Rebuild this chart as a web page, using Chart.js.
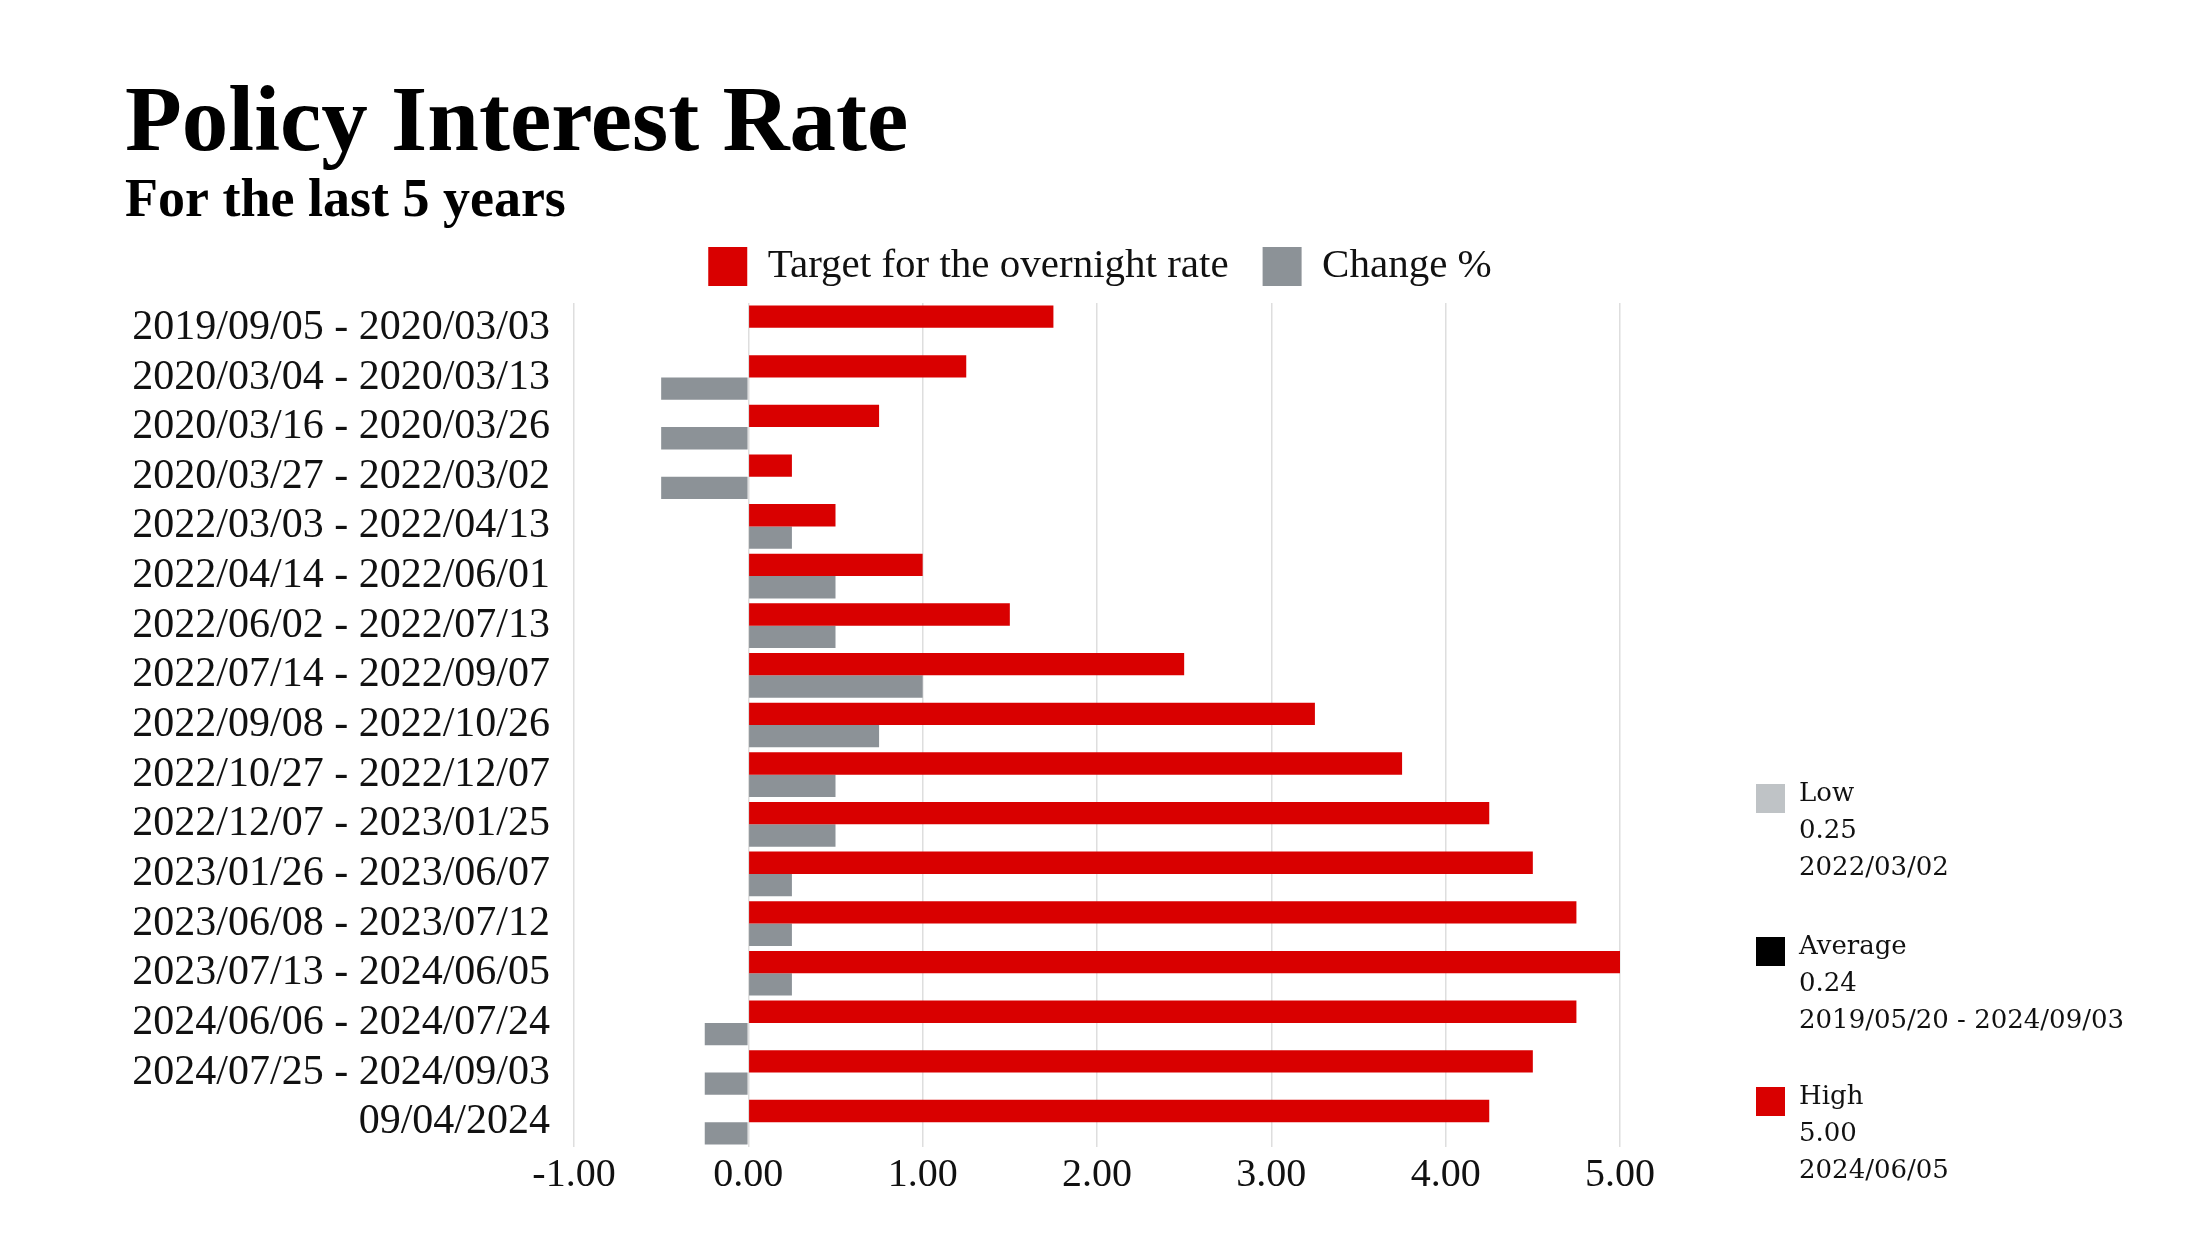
<!DOCTYPE html>
<html>
<head>
<meta charset="utf-8">
<script src="https://cdn.jsdelivr.net/npm/chart.js@4"></script>
<style>
  html, body { margin: 0; padding: 0; background: #fff; }
  #wrap { width: 2200px; height: 1237px; position: relative; }
</style>
</head>
<body>
<div id="wrap"><canvas id="chart"></canvas></div>
<script>
// Periods (y categories) and the two series
const periods = [
  '2019/09/05 - 2020/03/03',
  '2020/03/04 - 2020/03/13',
  '2020/03/16 - 2020/03/26',
  '2020/03/27 - 2022/03/02',
  '2022/03/03 - 2022/04/13',
  '2022/04/14 - 2022/06/01',
  '2022/06/02 - 2022/07/13',
  '2022/07/14 - 2022/09/07',
  '2022/09/08 - 2022/10/26',
  '2022/10/27 - 2022/12/07',
  '2022/12/07 - 2023/01/25',
  '2023/01/26 - 2023/06/07',
  '2023/06/08 - 2023/07/12',
  '2023/07/13 - 2024/06/05',
  '2024/06/06 - 2024/07/24',
  '2024/07/25 - 2024/09/03',
  '09/04/2024'
]
const targetRate = [1.75, 1.25, 0.75, 0.25, 0.50, 1.00, 1.50, 2.50, 3.25, 3.75, 4.25, 4.50, 4.75, 5.00, 4.75, 4.50, 4.25]
const changePct = [0, -0.50, -0.50, -0.50, 0.25, 0.50, 0.50, 1.00, 0.75, 0.50, 0.50, 0.25, 0.25, 0.25, -0.25, -0.25, -0.25]

// x axis range / ticks
const xTicks = [-1, 0, 1, 2, 3, 4, 5]

// Side summary
const summaryNames = ['Low', 'Average', 'High']
const summaryValues = ['0.25', '0.24', '5.00']
const summaryDates = ['2022/03/02', '2019/05/20 - 2024/09/03', '2024/06/05']

const RED = '#d90000'
const GRAY = '#8c9297'
const summaryColors = ['#bfc3c6', '#000000', RED]

const serif = '"Liberation Serif", "Times New Roman", serif'

// Draws the Low / Average / High block to the right of the plot
const summaryPlugin = {
  id: 'summary',
  afterDraw(chart) {
    const { ctx, chartArea } = chart
    const boxX = chartArea.right + 136
    const textX = chartArea.right + 179
    const tops = [784, 937, 1087]
    ctx.save()
    ctx.font = '26px "DejaVu Serif", serif'
    ctx.textBaseline = 'middle'
    ctx.textAlign = 'left'
    summaryNames.forEach((name, i) => {
      const top = tops[i]
      ctx.fillStyle = summaryColors[i]
      ctx.fillRect(boxX, top, 29, 29)
      ctx.fillStyle = '#111'
      ctx.fillText(name, textX, top + 10)
      ctx.fillText(summaryValues[i], textX, top + 47)
      ctx.fillText(summaryDates[i], textX, top + 84)
    })
    ctx.restore()
  }
}

// empty axis used only to reserve space (no ticks, no grid)
const spacer = (pos, type, size) => ({
  type,
  position: pos,
  ticks: { display: false },
  grid: { display: false, drawTicks: false },
  border: { display: false },
  afterFit: (scale) => {
    if (pos === 'top') scale.height = size
    else scale.width = size
  }
})

new Chart(document.getElementById('chart'), {
  type: 'bar',
  data: {
    labels: periods,
    datasets: [
      {
        label: 'Target for the overnight rate',
        data: targetRate,
        backgroundColor: RED,
        categoryPercentage: 0.9,
        barPercentage: 1.0
      },
      {
        label: 'Change %',
        data: changePct,
        backgroundColor: GRAY,
        categoryPercentage: 0.9,
        barPercentage: 1.0
      }
    ]
  },
  options: {
    indexAxis: 'y',
    responsive: true,
    maintainAspectRatio: false,
    devicePixelRatio: 1,
    animation: false,
    layout: {
      padding: { left: 125, right: 125, top: 0, bottom: 34 }
    },
    plugins: {
      title: {
        display: true,
        text: 'Policy Interest Rate',
        align: 'start',
        color: '#000',
        font: { family: serif, size: 93, weight: 'bold', lineHeight: 1 },
        padding: { top: 79, bottom: 0 }
      },
      subtitle: {
        display: true,
        text: 'For the last 5 years',
        align: 'start',
        color: '#000',
        font: { family: serif, size: 54, weight: 'bold', lineHeight: 1 },
        padding: { top: 3, bottom: -17 }
      },
      legend: {
        display: true,
        position: 'top',
        labels: {
          color: '#111',
          boxWidth: 39,
          boxHeight: 39,
          padding: 34,
          font: { family: serif, size: 41 }
        }
      },
      tooltip: { enabled: false }
    },
    scales: {
      x: {
        min: xTicks[0],
        max: xTicks[xTicks.length - 1],
        ticks: {
          stepSize: 1,
          color: '#111',
          padding: 4,
          font: { family: serif, size: 40 },
          callback: (value) => Number(value).toFixed(2)
        },
        grid: { color: '#dedede', lineWidth: 1.5, drawTicks: false },
        border: { display: false }
      },
      y: {
        ticks: {
          color: '#111',
          padding: 24,
          autoSkip: false,
          font: { family: serif, size: 42 }
        },
        grid: { display: false, drawTicks: false },
        border: { display: false },
        afterFit: (scale) => { scale.width = 449 }
      },
      // right-hand column that holds the Low / Average / High block
      side: spacer('right', 'category', 455),
      // small gap between the legend and the plot
      gap: spacer('top', 'linear', 6)
    }
  },
  plugins: [summaryPlugin]
})
</script>
</body>
</html>
